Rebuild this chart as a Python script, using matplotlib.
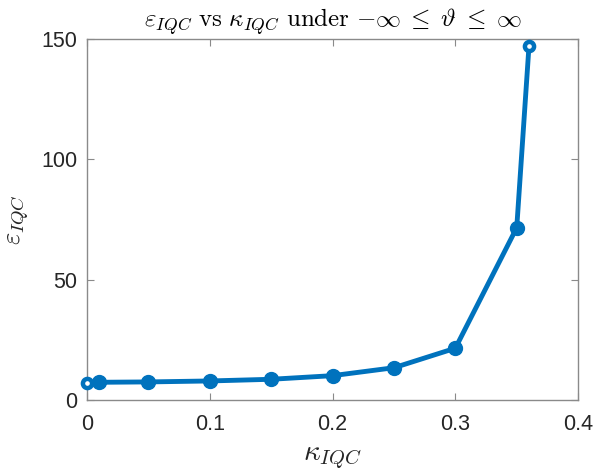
import matplotlib
matplotlib.use("Agg")
import matplotlib.pyplot as plt

kappa = [0.0, 0.01, 0.05, 0.10, 0.15, 0.20, 0.25, 0.30, 0.35, 0.36]
eps = [7.2, 7.35, 7.5, 7.9, 8.6, 10.1, 13.4, 21.5, 71.6, 147.2]

plt.rcParams["mathtext.fontset"] = "cm"
plt.rcParams["font.family"] = ["Liberation Sans", "DejaVu Sans"]

blue = "#0072BD"
axis_gray = "#8a8a8a"
text_dark = "#262626"

fig = plt.figure(figsize=(5.96, 4.70), dpi=100)
ax = fig.add_axes([0.146, 0.149, 0.824, 0.768])

ax.plot(kappa, eps, "-", color=blue, lw=3.5, zorder=2)
ax.plot(kappa[1:-1], eps[1:-1], "o", color=blue, ms=10, zorder=3)
ax.plot([kappa[0], kappa[-1]], [eps[0], eps[-1]], "o", color=blue,
        mfc="white", mec=blue, mew=3.2, ms=6.6, zorder=4, clip_on=False)

ax.set_xlim(0, 0.4)
ax.set_ylim(0, 150)
ax.set_xticks([0, 0.1, 0.2, 0.3, 0.4])
ax.set_xticklabels(["0", "0.1", "0.2", "0.3", "0.4"])
ax.set_yticks([0, 50, 100, 150])

for s in ax.spines.values():
    s.set_color(axis_gray)
    s.set_linewidth(1.0)
ax.tick_params(direction="in", top=True, right=True, length=5,
               color=axis_gray, labelsize=15.5, labelcolor=text_dark)
ax.tick_params(axis="x", pad=10)
ax.tick_params(axis="y", pad=7)

ax.set_title(r"$\varepsilon_{IQC}\ \mathrm{vs}\ \kappa_{IQC}\ \mathrm{under}\ {-}\infty\;\leq\;\vartheta\;\leq\;\infty$",
             fontsize=18, color="black", pad=9)
ax.set_xlabel(r"$\kappa_{IQC}$", fontsize=21, color=text_dark, labelpad=6)
ax.set_ylabel(r"$\varepsilon_{IQC}$", fontsize=19, color=text_dark, labelpad=7)

fig.savefig("out.png", dpi=100)
